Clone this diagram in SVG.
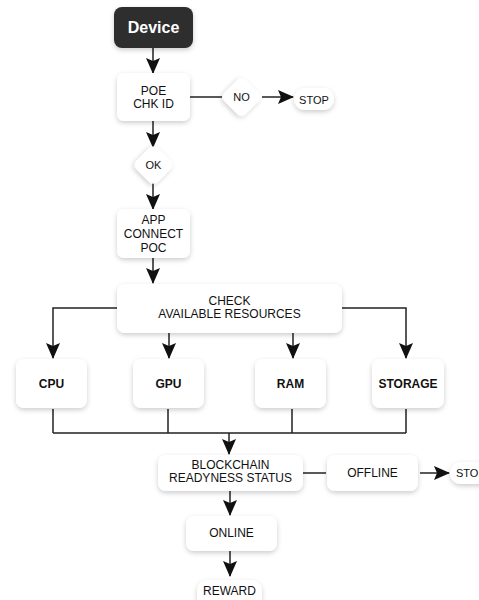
<svg xmlns="http://www.w3.org/2000/svg" width="479" height="600" viewBox="0 0 479 600">
  <defs>
    <filter id="shadow" x="-30%" y="-30%" width="160%" height="170%">
      <feDropShadow dx="0" dy="2" stdDeviation="2.5" flood-color="#000" flood-opacity="0.2"/>
    </filter>
    <marker id="arrow" viewBox="0 0 16 14" refX="15" refY="7" markerWidth="17" markerHeight="14" markerUnits="userSpaceOnUse" orient="auto">
      <path d="M0,0 L16,7 L0,14 L3,7 Z" fill="#111"/>
    </marker>
    <style>
      .box { fill: #fff; filter: url(#shadow); }
      .dark { fill: #2e2e2e; filter: url(#shadow); }
      .t { font-family: "Liberation Sans", Arial, sans-serif; font-size: 12px; fill: #111; text-anchor: middle; }
      .b { font-weight: bold; }
      .small { font-size: 11px; }
      .light { fill: #fff; font-size: 16px; font-weight: bold; }
      .wire { fill: none; stroke: #222; stroke-width: 1.5; }
      .arr { marker-end: url(#arrow); }
    </style>
  </defs>

  <rect width="479" height="600" fill="#fff"/>

  <!-- connectors -->
  <g id="connectors">
    <path class="wire arr" d="M153,48 V73"/>
    <path class="wire" d="M190,97 H222"/>
    <path class="wire arr" d="M262,97 H293"/>
    <path class="wire arr" d="M153,121 V147"/>
    <path class="wire arr" d="M153,183 V209"/>
    <path class="wire arr" d="M153,258 V283"/>
    <path class="wire arr" d="M117,308 H53 V358"/>
    <path class="wire arr" d="M342,308 H406 V358"/>
    <path class="wire arr" d="M169,333 V358"/>
    <path class="wire arr" d="M293,333 V358"/>
    <path class="wire" d="M53,409 V433 M168,409 V433 M292,409 V433 M406,409 V433 M53,433 H406"/>
    <path class="wire arr" d="M229,433 V454"/>
    <path class="wire" d="M303,473 H326"/>
    <path class="wire arr" d="M420,473 H449"/>
    <path class="wire arr" d="M230,491 V515"/>
    <path class="wire arr" d="M230,551 V576"/>
  </g>

  <g id="device">
    <rect class="dark" x="114" y="7" width="79" height="41" rx="8"/>
    <text class="t light" x="153.5" y="33">Device</text>
  </g>

  <g id="poe">
    <rect class="box" x="117" y="73" width="73" height="48" rx="7"/>
    <text class="t" x="153.5" y="95">POE</text>
    <text class="t" x="153.5" y="108">CHK ID</text>
  </g>

  <g id="no">
    <rect class="box" x="-15" y="-15" width="30" height="30" rx="6" transform="translate(241.5,97) rotate(45)"/>
    <text class="t small" x="241.5" y="101">NO</text>
  </g>

  <g id="stop-top">
    <rect class="box" x="294" y="88" width="40" height="22" rx="11"/>
    <text class="t small" x="314" y="103.5">STOP</text>
  </g>

  <g id="ok">
    <rect class="box" x="-15" y="-15" width="30" height="30" rx="6" transform="translate(153.5,165) rotate(45)"/>
    <text class="t small" x="153.5" y="169">OK</text>
  </g>

  <g id="app">
    <rect class="box" x="117" y="209" width="73" height="49" rx="7"/>
    <text class="t" x="153.5" y="224">APP</text>
    <text class="t" x="153.5" y="238">CONNECT</text>
    <text class="t" x="153.5" y="252">POC</text>
  </g>

  <g id="check">
    <rect class="box" x="117" y="284" width="225" height="49" rx="8"/>
    <text class="t" x="229.5" y="305">CHECK</text>
    <text class="t" x="229.5" y="318">AVAILABLE RESOURCES</text>
  </g>

  <g id="cpu">
    <rect class="box" x="16" y="359" width="71" height="49" rx="8"/>
    <text class="t b" x="51.5" y="388">CPU</text>
  </g>
  <g id="gpu">
    <rect class="box" x="133" y="359" width="71" height="49" rx="8"/>
    <text class="t b" x="168.5" y="388">GPU</text>
  </g>
  <g id="ram">
    <rect class="box" x="255" y="359" width="71" height="49" rx="8"/>
    <text class="t b" x="290.5" y="388">RAM</text>
  </g>
  <g id="storage">
    <rect class="box" x="372" y="359" width="72" height="49" rx="8"/>
    <text class="t b" x="408" y="388">STORAGE</text>
  </g>

  <g id="blockchain">
    <rect class="box" x="158" y="455" width="145" height="36" rx="8"/>
    <text class="t" x="230.5" y="469">BLOCKCHAIN</text>
    <text class="t" x="230.5" y="482">READYNESS STATUS</text>
  </g>

  <g id="offline">
    <rect class="box" x="327" y="455" width="91" height="36" rx="8"/>
    <text class="t" x="372.5" y="477">OFFLINE</text>
  </g>

  <!-- this pill runs past the right edge of the canvas -->
  <g id="stop-bottom">
    <rect class="box" x="450" y="462" width="50" height="22" rx="11"/>
    <text class="t small" x="456" y="477" style="text-anchor:start">STOP</text>
  </g>

  <g id="online">
    <rect class="box" x="186" y="516" width="91" height="35" rx="8"/>
    <text class="t" x="231.5" y="537">ONLINE</text>
  </g>

  <g id="reward">
    <rect class="box" x="197" y="580" width="65" height="30" rx="11"/>
    <text class="t" x="229.5" y="595">REWARD</text>
  </g>
</svg>
